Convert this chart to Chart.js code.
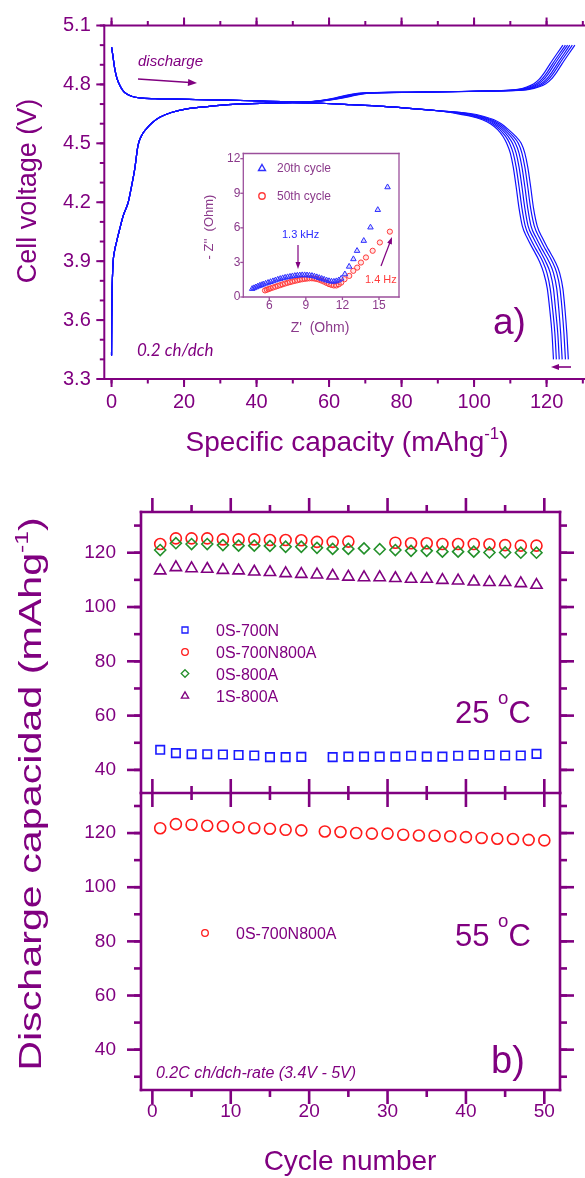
<!DOCTYPE html>
<html>
<head>
<meta charset="utf-8">
<script src="https://cdn.jsdelivr.net/npm/chart.js@4.4.1/dist/chart.umd.min.js"></script>
<style>
  html, body { margin: 0; padding: 0; background: #fff; }
  #wrap { position: relative; width: 585px; height: 1178px; overflow: hidden; }
  #wrap canvas { position: absolute; left: 0; top: 0; }
</style>
</head>
<body>
<div id="wrap">
  <canvas id="chartA" width="585" height="1178"></canvas>
  <canvas id="chartInset" width="585" height="1178"></canvas>
  <canvas id="chartB25" width="585" height="1178"></canvas>
  <canvas id="chartB55" width="585" height="1178"></canvas>
</div>
<script>
"use strict";
var W = 585, H = 1178;
var FONT = '"Liberation Sans", Arial, sans-serif';
var PURPLE = "#800080";
Chart.defaults.font.family = FONT;
Chart.defaults.color = PURPLE;

// ---------- a) charge / discharge profiles : [capacity mAh/g, voltage V] ----------
var capTicks = [0, 20, 40, 60, 80, 100, 120];
var voltTicks = [3.3, 3.6, 3.9, 4.2, 4.5, 4.8, 5.1];

// part shared by all cycles (curves lie on top of each other)
var chargeHead = [[0, 4.99], [0.3, 4.955], [0.6, 4.915], [0.9, 4.878], [1.5, 4.83], [2.3, 4.795],
  [3.1, 4.77], [4.1, 4.752], [5.5, 4.74], [7.8, 4.731], [12, 4.727], [18, 4.725], [25, 4.722],
  [32, 4.72], [40, 4.716], [47, 4.712], [52, 4.71]];
// end of the charge curve, one x list per cycle at these voltages
var chargeTailV = [4.712, 4.72, 4.73, 4.742, 4.751, 4.756, 4.76, 4.764, 4.768, 4.775, 4.787, 4.804, 4.827, 4.863, 4.906, 4.955, 5.0];
var chargeTailX = [
  [55, 58.5, 61.5, 64, 66.5, 69, 80, 95, 106, 112, 114.5, 116.5, 118, 119.5, 121, 122.8, 124.5],
  [55.2, 58.8, 61.9, 64.5, 67, 69.5, 80.8, 95.8, 106.7, 112.6, 115.2, 117.2, 118.7, 120.2, 121.7, 123.5, 125.2],
  [55.4, 59.1, 62.3, 65, 67.5, 70, 81.6, 96.6, 107.4, 113.3, 115.9, 117.8, 119.3, 120.8, 122.3, 124.1, 125.8],
  [55.6, 59.4, 62.7, 65.5, 68, 70.5, 82.4, 97.4, 108.1, 113.9, 116.5, 118.5, 120, 121.5, 123, 124.8, 126.4],
  [55.8, 59.7, 63.1, 66, 68.5, 71, 83.2, 98.2, 108.8, 114.6, 117.2, 119.1, 120.6, 122.1, 123.6, 125.4, 127.1],
  [56, 60, 63.5, 66.5, 69, 71.5, 84, 99, 109.5, 115.2, 117.8, 119.8, 121.3, 122.8, 124.3, 126.1, 127.8]
];
var dischargeHead = [[0, 3.42], [0.05, 3.6], [0.12, 3.72], [0.25, 3.82], [0.45, 3.9], [0.8, 3.95],
  [1.4, 4.0], [2.2, 4.06], [3.2, 4.13], [4.6, 4.2], [5.5, 4.28], [6.4, 4.37], [7.3, 4.49], [8.3, 4.54],
  [9.6, 4.574], [11.2, 4.605], [13.3, 4.633], [16.5, 4.657], [20.7, 4.675], [27, 4.688], [33.5, 4.698],
  [42, 4.704], [50, 4.707], [58, 4.704], [66, 4.697], [75, 4.688], [83, 4.677], [90, 4.666]];
var dischargeTailV = [4.652, 4.638, 4.62, 4.6, 4.57, 4.535, 4.5, 4.45, 4.38, 4.28, 4.17, 4.08, 4.02, 3.96, 3.9, 3.84, 3.76, 3.65, 3.53, 3.4];
var dischargeTailX = [
  [95, 99, 102.3, 104.5, 106.5, 108, 109, 110, 110.8, 111.6, 112.4, 113.3, 114.6, 116.3, 118, 119.2, 120.2, 120.9, 121.5, 121.9],
  [95.8, 99.7, 103, 105.1, 107.1, 108.7, 109.8, 110.8, 111.6, 112.4, 113.2, 114.1, 115.4, 117.1, 118.9, 120.1, 121, 121.7, 122.3, 122.7],
  [96.6, 100.4, 103.6, 105.7, 107.7, 109.4, 110.6, 111.6, 112.4, 113.2, 114, 114.9, 116.3, 118, 119.7, 121, 121.9, 122.5, 123.1, 123.5],
  [97.4, 101.1, 104.2, 106.3, 108.3, 110.1, 111.4, 112.4, 113.2, 114, 114.8, 115.7, 117.1, 118.8, 120.6, 121.9, 122.8, 123.4, 123.9, 124.3],
  [98.2, 101.8, 104.8, 106.9, 108.9, 110.8, 112.2, 113.2, 114, 114.8, 115.6, 116.6, 118, 119.7, 121.5, 122.8, 123.7, 124.3, 124.8, 125.2],
  [99, 102.5, 105.5, 107.5, 109.5, 111.5, 113, 114, 114.8, 115.6, 116.4, 117.4, 118.8, 120.5, 122.3, 123.6, 124.5, 125.1, 125.6, 126]
];

// ---------- inset : impedance (Ohm) ----------
var zReTicks = [6, 9, 12, 15];
var zImTicks = [0, 3, 6, 9, 12];
var eis20Re = [4.6, 4.75, 4.9, 5.05, 5.2, 5.35, 5.5, 5.7, 5.9, 6.1, 6.3, 6.5, 6.7, 6.9, 7.1, 7.3, 7.5, 7.7, 7.9, 8.1, 8.3,
  8.5, 8.7, 8.9, 9.1, 9.3, 9.5, 9.7, 9.9, 10.1, 10.3, 10.5, 10.7, 10.9, 11.1, 11.3, 11.5, 11.7, 11.9, 12.2, 12.55, 12.9,
  13.2, 13.75, 14.3, 14.9, 15.7];
var eis20Im = [0.71, 0.78, 0.85, 0.92, 0.98, 1.04, 1.1, 1.17, 1.24, 1.31, 1.38, 1.45, 1.52, 1.58, 1.64, 1.69, 1.73, 1.77,
  1.81, 1.84, 1.87, 1.89, 1.9, 1.9, 1.89, 1.87, 1.84, 1.79, 1.73, 1.66, 1.59, 1.52, 1.45, 1.39, 1.35, 1.34, 1.38, 1.46,
  1.6, 1.98, 2.64, 3.29, 4.01, 4.88, 6.04, 7.56, 9.53];
var eis50Re = [5.65, 5.8, 5.95, 6.1, 6.3, 6.5, 6.7, 6.9, 7.1, 7.3, 7.5, 7.7, 7.9, 8.1, 8.3, 8.5, 8.7, 8.9, 9.1, 9.3, 9.5,
  9.7, 9.9, 10.1, 10.3, 10.5, 10.7, 10.9, 11.1, 11.3, 11.5, 11.7, 11.9, 12.17, 12.56, 12.89, 13.21, 13.52, 13.93, 14.48,
  15.07, 15.89];
var eis50Im = [0.57, 0.63, 0.69, 0.75, 0.82, 0.89, 0.96, 1.03, 1.1, 1.17, 1.23, 1.29, 1.35, 1.4, 1.45, 1.5, 1.54, 1.57,
  1.6, 1.62, 1.62, 1.6, 1.56, 1.5, 1.42, 1.33, 1.22, 1.12, 1.05, 1.0, 1.0, 1.1, 1.25, 1.54, 1.83, 2.27, 2.55, 2.99, 3.43,
  4.01, 4.73, 5.67];

// ---------- b) discharge capacity vs cycle ----------
var cycleTicks = [0, 10, 20, 30, 40, 50];
var capBTicks = [40, 60, 80, 100, 120];
var cycles25 = [1, 3, 5, 7, 9, 11, 13, 15, 17, 19, 21, 23, 25, 27, 29, 31, 33, 35, 37, 39, 41, 43, 45, 47, 49];
var cap0S700N = [47.4, 46.2, 45.8, 45.8, 45.7, 45.5, 45.3, 44.7, 44.7, 44.8, null, 44.7, 44.9, 44.9, 44.9, 44.9, 45.2,
  44.9, 44.9, 45.2, 45.5, 45.5, 45.3, 45.3, 45.9];
var cap0S700N800A = [123.2, 125.3, 125.3, 125.3, 124.9, 124.9, 124.9, 124.7, 124.7, 124.6, 124.0, 124.0, 124.1, null,
  null, 123.7, 123.5, 123.5, 123.2, 123.2, 123.2, 123.1, 122.8, 122.6, 122.6];
var cap0S800A = [121.0, 123.5, 123.2, 123.2, 122.8, 122.6, 122.6, 122.5, 122.2, 122.2, 121.8, 121.4, 121.4, 121.6, 121.3,
  121.0, 120.7, 120.7, 120.4, 120.4, 120.4, 120.1, 120.1, 120.0, 120.0];
var cap1S800A = [113.4, 114.6, 114.2, 114.0, 113.6, 113.4, 113.0, 112.8, 112.4, 112.1, 111.9, 111.5, 111.1, 110.9, 110.9,
  110.6, 110.3, 110.3, 109.9, 109.7, 109.3, 109.1, 109.1, 108.7, 108.1];
var cycles55 = [1, 3, 5, 7, 9, 11, 13, 15, 17, 19, 22, 24, 26, 28, 30, 32, 34, 36, 38, 40, 42, 44, 46, 48, 50];
var cap55_0S700N800A = [121.8, 123.3, 123.1, 122.7, 122.5, 122.1, 121.8, 121.6, 121.2, 121.0, 120.6, 120.4, 120.0, 119.8,
  119.8, 119.4, 119.1, 119.0, 118.8, 118.5, 118.2, 117.9, 117.8, 117.5, 117.3];

// ---------- helpers ----------
function pairs(xs, ys) {
  var out = [];
  for (var i = 0; i < xs.length; i++) if (ys[i] != null) out.push({x: xs[i], y: ys[i]});
  return out;
}
function fromList(arr) { return arr.map(function (p) { return {x: p[0], y: p[1]}; }); }
function steps(a, b, s) {
  var v = [], n = Math.round((b - a) / s);
  for (var i = 0; i <= n; i++) v.push(+(a + i * s).toFixed(4));
  return v;
}

function drawRich(ctx, t) {
  var parts = typeof t.text === "string" ? [[t.text]] : t.text;
  var style = t.style ? t.style + " " : "";
  var fam = t.family || FONT;
  function font(p) { return style + (t.size * (p[1] || 1)).toFixed(1) + "px " + fam; }
  ctx.save();
  var w = 0;
  parts.forEach(function (p) { ctx.font = font(p); w += ctx.measureText(p[0]).width; });
  ctx.translate(t.x, t.y);
  if (t.rot) ctx.rotate(t.rot * Math.PI / 180);
  if (t.sx) ctx.scale(t.sx, 1);
  var x = t.align === "center" ? -w / 2 : t.align === "right" ? -w : 0;
  ctx.fillStyle = t.color || PURPLE;
  ctx.textBaseline = "alphabetic";
  ctx.textAlign = "left";
  parts.forEach(function (p) {
    ctx.font = font(p);
    ctx.fillText(p[0], x, -(p[2] || 0) * t.size);
    x += ctx.measureText(p[0]).width;
  });
  ctx.restore();
}
function drawArrow(ctx, a) {
  var dx = a.x2 - a.x1, dy = a.y2 - a.y1, L = Math.sqrt(dx * dx + dy * dy), ux = dx / L, uy = dy / L;
  var hl = a.head || 9, hw = a.hw || 3.5;
  ctx.save();
  ctx.strokeStyle = ctx.fillStyle = a.color || PURPLE;
  ctx.lineWidth = a.lw || 1.5;
  ctx.beginPath();
  ctx.moveTo(a.x1, a.y1);
  ctx.lineTo(a.x2 - ux * hl * 0.8, a.y2 - uy * hl * 0.8);
  ctx.stroke();
  ctx.beginPath();
  ctx.moveTo(a.x2, a.y2);
  ctx.lineTo(a.x2 - ux * hl - uy * hw, a.y2 - uy * hl + ux * hw);
  ctx.lineTo(a.x2 - ux * hl + uy * hw, a.y2 - uy * hl - ux * hw);
  ctx.closePath();
  ctx.fill();
  ctx.restore();
}
function drawMark(ctx, m) {
  var x = m.x, y = m.y, r = m.r;
  ctx.save();
  ctx.strokeStyle = m.color;
  ctx.lineWidth = m.lw || 1.3;
  ctx.beginPath();
  if (m.shape === "circle") ctx.arc(x, y, r, 0, Math.PI * 2);
  else if (m.shape === "rect") ctx.rect(x - r, y - r, 2 * r, 2 * r);
  else if (m.shape === "rectRot") { ctx.moveTo(x, y - r); ctx.lineTo(x + r, y); ctx.lineTo(x, y + r); ctx.lineTo(x - r, y); ctx.closePath(); }
  else { ctx.moveTo(x, y - r); ctx.lineTo(x + r * 0.866, y + r / 2); ctx.lineTo(x - r * 0.866, y + r / 2); ctx.closePath(); }
  ctx.stroke();
  ctx.restore();
}

// axis frame with major / minor tick marks, placed through the chart scales
function framePlugin(spec) {
  return {
    id: "frame",
    afterDatasetsDraw: function (chart) {
      var ctx = chart.ctx, a = chart.chartArea;
      ctx.save();
      ctx.strokeStyle = spec.color;
      ctx.lineWidth = spec.width;
      spec.sides.forEach(function (s) {
        var sc = chart.scales[s.scale];
        var horiz = s.edge === "top" || s.edge === "bottom";
        var base = {top: a.top, bottom: a.bottom, left: a.left, right: a.right}[s.edge];
        var out = (s.edge === "top" || s.edge === "left") ? -1 : 1;
        ctx.lineCap = "square";
        ctx.beginPath();
        if (horiz) { ctx.moveTo(a.left, base); ctx.lineTo(a.right, base); }
        else { ctx.moveTo(base, a.top); ctx.lineTo(base, a.bottom); }
        ctx.stroke();
        ctx.lineCap = "butt";
        [[s.minor || [], spec.minLen], [s.major || [], spec.majLen]].forEach(function (set) {
          set[0].forEach(function (v) {
            if (v < sc.min || v > sc.max) return;
            var p = sc.getPixelForValue(v);
            var from = s.both ? base - set[1] : base, to = base + out * set[1];
            ctx.beginPath();
            if (horiz) { ctx.moveTo(p, from); ctx.lineTo(p, to); }
            else { ctx.moveTo(from, p); ctx.lineTo(to, p); }
            ctx.stroke();
          });
        });
      });
      ctx.restore();
    }
  };
}
function notesPlugin(spec) {
  return {
    id: "notes",
    afterDraw: function (chart) {
      var ctx = chart.ctx;
      (spec.arrows || []).forEach(function (a) { drawArrow(ctx, a); });
      (spec.marks || []).forEach(function (m) { drawMark(ctx, m); });
      (spec.texts || []).forEach(function (t) { drawRich(ctx, t); });
    }
  };
}

function panel(id, area, xs, ys, datasets, frame, notes) {
  function axis(o, horiz) {
    return {
      type: "linear", position: horiz ? "bottom" : "left", min: o.min, max: o.max,
      afterFit: function (s) { if (horiz) s.height = H - area.bottom; else s.width = area.left; },
      afterBuildTicks: function (s) { s.ticks = o.ticks.map(function (v) { return {value: v}; }); },
      grid: {display: false, drawTicks: false},
      border: {display: false},
      ticks: {
        display: o.labels !== false, padding: o.pad, color: o.color || PURPLE,
        font: {size: o.size, family: FONT},
        callback: function (v) { return o.dec ? v.toFixed(o.dec) : String(v); }
      }
    };
  }
  return new Chart(document.getElementById(id), {
    type: "scatter",
    data: {datasets: datasets},
    options: {
      responsive: false, animation: false, devicePixelRatio: 1,
      layout: {padding: {left: 0, top: area.top, right: W - area.right, bottom: 0}},
      plugins: {legend: {display: false}, tooltip: {enabled: false}},
      scales: {x: axis(xs, true), y: axis(ys, false)}
    },
    plugins: [framePlugin(frame), notesPlugin(notes)]
  });
}

// ---------- chart a) ----------
var curveSets = [];
chargeTailX.forEach(function (xs) {
  curveSets.push(fromList(chargeHead).concat(pairs(xs, chargeTailV)));
});
dischargeTailX.forEach(function (xs) {
  curveSets.push(fromList(dischargeHead).concat(pairs(xs, dischargeTailV)));
});
panel("chartA", {left: 104.3, top: 22.7, right: 585, bottom: 379},
  {min: -2, max: 130.6, ticks: capTicks, pad: 11.5, size: 20},
  {min: 3.3, max: 5.1, ticks: voltTicks, pad: 13.5, size: 20, dec: 1},
  curveSets.map(function (d) {
    return {data: d, showLine: true, pointRadius: 0, borderColor: "#1212ff", borderWidth: 1.2,
      cubicInterpolationMode: "monotone"};
  }),
  {color: PURPLE, width: 2, majLen: 8, minLen: 4.5, sides: [
    {edge: "left", scale: "y", major: voltTicks, minor: steps(3.3, 5.1, 0.1)},
    {edge: "top", scale: "x", major: capTicks, minor: steps(0, 130, 10)},
    {edge: "bottom", scale: "x", major: capTicks, minor: steps(0, 130, 10)}
  ]},
  {
    texts: [
      {text: "discharge", x: 138, y: 66, size: 15, style: "italic"},
      {text: "0.2 ch/dch", x: 137, y: 356, size: 17, style: "italic", family: "Lato"},
      {text: "a)", x: 493, y: 334, size: 37},
      {text: "Cell voltage (V)", x: 36, y: 191, size: 27, rot: -90, align: "center"},
      {text: [["Specific capacity (mAhg"], ["-1", 0.6, 0.42], [")"]], x: 347, y: 451, size: 28, align: "center"}
    ],
    arrows: [
      {x1: 138, y1: 79, x2: 197, y2: 83, lw: 1.6},
      {x1: 571, y1: 367, x2: 551, y2: 367, lw: 1.6, head: 8, hw: 3}
    ]
  });

// ---------- inset ----------
panel("chartInset", {left: 243.3, top: 153.5, right: 399, bottom: 297},
  {min: 3.87, max: 16.64, ticks: zReTicks, pad: 1, size: 12, color: "#8b3a8b"},
  {min: 0, max: 12.45, ticks: zImTicks, pad: 3, size: 12, color: "#8b3a8b"},
  [
    {data: pairs(eis20Re, eis20Im), pointStyle: "triangle", pointRadius: 3.2, borderWidth: 1,
      borderColor: "#2f2fff", backgroundColor: "rgba(60,60,255,0.2)"},
    {data: pairs(eis50Re, eis50Im), pointStyle: "circle", pointRadius: 2.6, borderWidth: 1,
      borderColor: "#ff3b3b", backgroundColor: "rgba(255,80,80,0.15)"}
  ],
  {color: "#9b4f9b", width: 1.3, majLen: 3, minLen: 0, sides: [
    {edge: "left", scale: "y", major: zImTicks},
    {edge: "bottom", scale: "x", major: zReTicks},
    {edge: "top", scale: "x"},
    {edge: "right", scale: "y"}
  ]},
  {
    marks: [
      {shape: "triangle", x: 262, y: 168.5, r: 4, color: "#2f2fff", lw: 1.4},
      {shape: "circle", x: 262, y: 196, r: 3.2, color: "#ff3b3b", lw: 1.4}
    ],
    texts: [
      {text: "20th cycle", x: 277, y: 172, size: 12, color: "#8b3a8b"},
      {text: "50th cycle", x: 277, y: 200, size: 12, color: "#8b3a8b"},
      {text: "1.3 kHz", x: 282, y: 238, size: 11, color: "#2a2aff"},
      {text: "1.4 Hz", x: 365, y: 283, size: 11, color: "#ff3b3b"},
      {text: "- Z''  (Ohm)", x: 213, y: 227, size: 13, rot: -90, align: "center", color: "#8b3a8b"},
      {text: "Z'  (Ohm)", x: 320, y: 332, size: 14, align: "center", color: "#8b3a8b"}
    ],
    arrows: [
      {x1: 298, y1: 245, x2: 298, y2: 269, lw: 1.2, head: 7, hw: 2.5},
      {x1: 381, y1: 266, x2: 392, y2: 237, lw: 1.2, head: 7, hw: 2.5}
    ]
  });

// ---------- chart b) 25 C ----------
var xMinB = -1.45, xMaxB = 52;
var B = {color: PURPLE, width: 2.6, majLen: 14, minLen: 7};
panel("chartB25", {left: 141, top: 512, right: 560, bottom: 793},
  {min: xMinB, max: xMaxB, ticks: cycleTicks, labels: false, pad: 10, size: 19},
  {min: 31.5, max: 135, ticks: capBTicks, pad: 25, size: 19},
  [
    {data: pairs(cycles25, cap0S700N), pointStyle: "rect", pointRadius: 6, borderWidth: 1.6,
      borderColor: "#1a1aff", backgroundColor: "rgba(0,0,0,0)"},
    {data: pairs(cycles25, cap0S800A), pointStyle: "rectRot", pointRadius: 5.5, borderWidth: 1.6,
      borderColor: "#23902a", backgroundColor: "rgba(0,0,0,0)"},
    {data: pairs(cycles25, cap0S700N800A), pointStyle: "circle", pointRadius: 5.5, borderWidth: 1.6,
      borderColor: "#ff1a1a", backgroundColor: "rgba(0,0,0,0)"},
    {data: pairs(cycles25, cap1S800A), pointStyle: "triangle", pointRadius: 6.5, borderWidth: 1.6,
      borderColor: "#800080", backgroundColor: "rgba(0,0,0,0)"}
  ],
  {color: B.color, width: B.width, majLen: B.majLen, minLen: B.minLen, sides: [
    {edge: "left", scale: "y", major: capBTicks, minor: steps(30, 130, 10)},
    {edge: "right", scale: "y", major: capBTicks, minor: steps(30, 130, 10)},
    {edge: "top", scale: "x", major: cycleTicks, minor: steps(5, 45, 10)},
    {edge: "bottom", scale: "x", major: cycleTicks, minor: steps(5, 45, 10), both: true}
  ]},
  {
    marks: [
      {shape: "rect", x: 185, y: 630, r: 3, color: "#1a1aff"},
      {shape: "circle", x: 185, y: 652, r: 3.3, color: "#ff1a1a"},
      {shape: "rectRot", x: 185, y: 673.5, r: 3.8, color: "#23902a"},
      {shape: "triangle", x: 185, y: 696, r: 4.2, color: "#800080"}
    ],
    texts: [
      {text: "0S-700N", x: 216, y: 636, size: 16},
      {text: "0S-700N800A", x: 216, y: 658, size: 16},
      {text: "0S-800A", x: 216, y: 679.5, size: 16},
      {text: "1S-800A", x: 216, y: 701.5, size: 16},
      {text: [["25 "], ["o", 0.6, 0.6], ["C"]], x: 455, y: 723, size: 31}
    ]
  });

// ---------- chart b) 55 C ----------
panel("chartB55", {left: 141, top: 793, right: 560, bottom: 1090},
  {min: xMinB, max: xMaxB, ticks: cycleTicks, pad: 10, size: 19},
  {min: 25.1, max: 134.8, ticks: capBTicks, pad: 25, size: 19},
  [
    {data: pairs(cycles55, cap55_0S700N800A), pointStyle: "circle", pointRadius: 5.5, borderWidth: 1.6,
      borderColor: "#ff1a1a", backgroundColor: "rgba(0,0,0,0)"}
  ],
  {color: B.color, width: B.width, majLen: B.majLen, minLen: B.minLen, sides: [
    {edge: "left", scale: "y", major: capBTicks, minor: steps(30, 130, 10)},
    {edge: "right", scale: "y", major: capBTicks, minor: steps(30, 130, 10)},
    {edge: "bottom", scale: "x", major: cycleTicks, minor: steps(5, 45, 10)}
  ]},
  {
    marks: [{shape: "circle", x: 205, y: 933, r: 3.3, color: "#ff1a1a"}],
    texts: [
      {text: "0S-700N800A", x: 236, y: 939, size: 16},
      {text: [["55 "], ["o", 0.6, 0.6], ["C"]], x: 455, y: 946, size: 31},
      {text: "b)", x: 491, y: 1073, size: 38},
      {text: "0.2C ch/dch-rate (3.4V - 5V)", x: 156, y: 1078, size: 16, style: "italic"},
      {text: "Cycle number", x: 350, y: 1170, size: 28, align: "center"},
      {text: [["Discharge capacidad (mAhg"], ["-1", 0.6, 0.42], [")"]], x: 41, y: 794, size: 31, sx: 1.33,
        rot: -90, align: "center"}
    ]
  });
</script>
</body>
</html>
